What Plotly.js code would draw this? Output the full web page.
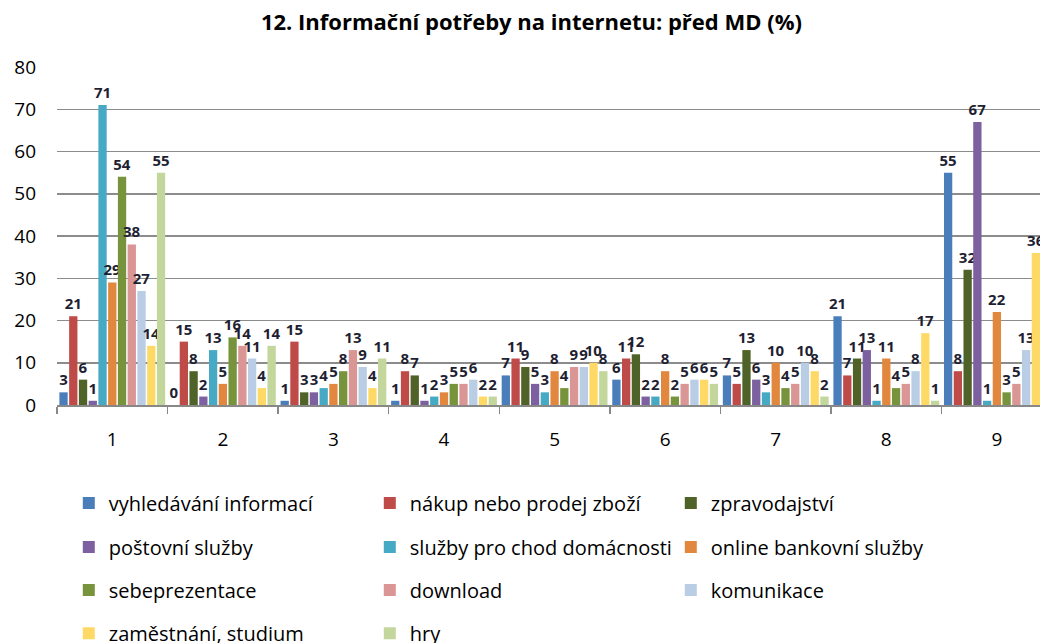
<!DOCTYPE html>
<html><head><meta charset="utf-8">
<script src="https://cdn.plot.ly/plotly-3.0.1.min.js"></script>
<style>html,body{margin:0;padding:0;background:#fff}#chart{width:1040px;height:643px}</style>
</head><body><div id="chart"></div>
<script>
const categories = ['1','2','3','4','5','6','7','8','9'];
const seriesNames = ['vyhledávání informací','nákup nebo prodej zboží','zpravodajství','poštovní služby','služby pro chod domácnosti','online bankovní služby','sebeprezentace','download','komunikace','zaměstnání, studium','hry'];
const vyhledavani = [3,0,1,1,7,6,7,21,55];
const nakup = [21,15,15,8,11,11,5,7,8];
const zpravodajstvi = [6,8,3,7,9,12,13,11,32];
const postovni = [1,2,3,1,5,2,6,13,67];
const domacnost = [71,13,4,2,3,2,3,1,1];
const bankovni = [29,5,5,3,8,8,10,11,22];
const sebeprezentace = [54,16,8,5,4,2,4,4,3];
const download = [38,14,13,5,9,5,5,5,5];
const komunikace = [27,11,9,6,9,6,10,8,13];
const zamestnani = [14,4,4,2,10,6,8,17,36];
const hry = [55,14,11,2,8,5,2,1,null];
const allSeries = [vyhledavani,nakup,zpravodajstvi,postovni,domacnost,bankovni,sebeprezentace,download,komunikace,zamestnani,hry];
const colors = ['#4A7EBB','#BE4B48','#4F6228','#7D60A0','#46AAC5','#E2873E','#77933C','#D99694','#B9CDE5','#FFD966','#C3D69B'];
const legendIds = ['legend','legend','legend','legend2','legend2','legend2','legend3','legend3','legend3','legend4','legend4'];

const traces = allSeries.map((vals,i)=>({
  type:'bar', x:categories, y:vals, name:seriesNames[i],
  marker:{color:colors[i]},
  text: vals.map(v=> v===null ? '' : String(v)),
  textposition:'outside', cliponaxis:false, constraintext:'none',
  textfont:{family:'Open Sans, sans-serif', size:15, color:'#1f1f33', weight:'bold'},
  legend: legendIds[i], hoverinfo:'none'
}));

const legBase = {orientation:'h', xanchor:'left', yanchor:'middle', x:0.012, entrywidth:256, entrywidthmode:'pixels',
  font:{family:'Open Sans, sans-serif', size:20, color:'#000'}, bgcolor:'rgba(0,0,0,0)', traceorder:'normal', itemclick:false};
const layout = {
  width:1040, height:643,
  margin:{l:57, r:0, t:67, b:238, pad:0, autoexpand:false},
  paper_bgcolor:'#fff', plot_bgcolor:'#fff',
  title:{text:'<b>12. Informační potřeby na internetu: před MD (%)</b>', x:0.511, xref:'container', xanchor:'center', y:0.965, yanchor:'middle',
    font:{family:'Open Sans, sans-serif', size:22, color:'#000'}},
  barmode:'group', bargap:0.03, bargroupgap:0.15,
  xaxis:{type:'category', range:[-0.5,8.39], tickson:'boundaries', ticks:'outside', ticklen:7, tickcolor:'#888', tickwidth:1.5,
    showline:true, linecolor:'#888', linewidth:1.5, showgrid:false, ticklabelstandoff:17, automargin:false,
    tickfont:{family:'Open Sans, sans-serif', size:19, color:'#000'}},
  yaxis:{range:[0,80], dtick:10, showgrid:true, gridcolor:'#8c8c8c', gridwidth:1.5, showline:false, zeroline:false,
    ticks:'', ticklabelstandoff:20, automargin:false,
    tickfont:{family:'Open Sans, sans-serif', size:19, color:'#000'}},
  showlegend:true,
  legend: Object.assign({}, legBase, {y:-0.29}),
  legend2: Object.assign({}, legBase, {y:-0.42}),
  legend3: Object.assign({}, legBase, {y:-0.547}),
  legend4: Object.assign({}, legBase, {y:-0.675}),
};
Plotly.newPlot('chart', traces, layout, {displayModeBar:false, staticPlot:true});
</script></body></html>
